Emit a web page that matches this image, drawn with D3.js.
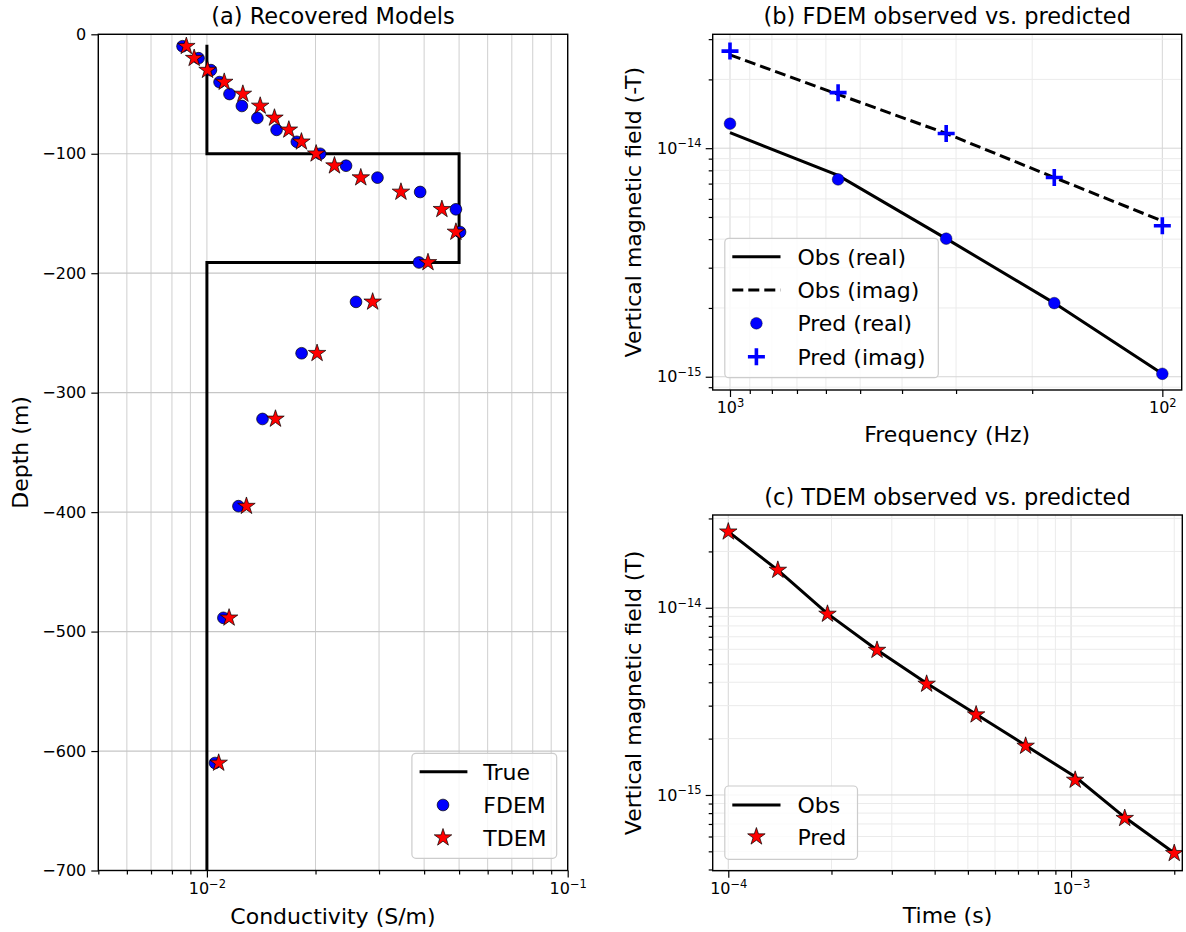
<!DOCTYPE html>
<html><head><meta charset="utf-8">
<script src="https://cdn.jsdelivr.net/npm/d3@7"></script>
<style>
body{margin:0;background:#fff;}
text{font-family:"DejaVu Sans",sans-serif;fill:#000;}
</style>
</head><body>
<svg id="chart" width="1186" height="932"></svg>
<script>
// ---------------- DATA ----------------
// (a) Recovered models
const depths = [-10,-20,-30,-40,-50,-60,-70,-80,-90,-100,-110,-120,-132,-146.5,-165.5,-191,-224,-267,-322,-395,-488.5,-610];
const sigmaFDEM = [0.00856,0.00948,0.01026,0.01084,0.01155,0.0125,0.0138,0.0156,0.01775,0.0206,0.0243,0.0297,0.039,0.049,0.0503,0.0387,0.0259,0.0183,0.01426,0.01223,0.01111,0.01053];
const sigmaTDEM = [0.00877,0.00922,0.01004,0.01117,0.01258,0.01405,0.01539,0.01687,0.01828,0.02008,0.02257,0.0267,0.0345,0.0448,0.049,0.041,0.0288,0.0202,0.01549,0.01287,0.01152,0.01078];
const trueDepth = [-10,-100,-100,-191,-191,-700];
const trueSigma = [0.01,0.01,0.05,0.05,0.01,0.01];
const depthTicks = [0,-100,-200,-300,-400,-500,-600,-700];
const condTicks = [0.01,0.1];

// (b) FDEM
const freqs = [1000,562.3,316.2,177.8,100];
const obsReal = [1.17e-14,7.6e-15,4.02e-15,2.1e-15,1.03e-15];
const obsImag = [2.56e-14,1.72e-14,1.16e-14,7.44e-15,4.8e-15];
const predReal = [1.28e-14,7.3e-15,4.02e-15,2.1e-15,1.03e-15];
const predImag = [2.66e-14,1.75e-14,1.16e-14,7.44e-15,4.58e-15];
const freqTicks = [1000,100];
const fieldTicksB = [1e-14,1e-15];

// (c) TDEM
const times = [1e-4,1.395e-4,1.947e-4,2.716e-4,3.79e-4,5.285e-4,7.37e-4,1.028e-3,1.434e-3,2e-3];
const obsT = [2.55e-14,1.59e-14,9.3e-15,5.95e-15,3.95e-15,2.7e-15,1.84e-15,1.25e-15,7.6e-16,4.9e-16];
const predT = [2.546e-14,1.59e-14,9.26e-15,5.94e-15,3.915e-15,2.684e-15,1.826e-15,1.202e-15,7.51e-16,4.88e-16];
const timeTicks = [1e-4,1e-3];
const fieldTicksC = [1e-14,1e-15];

// ---------------- SETUP ----------------
const svg = d3.select("#chart");
svg.append("rect").attr("width",1186).attr("height",932).attr("fill","#fff");
const minus = "\u2212";

function supLabel(sel, v){
  const e = Math.round(Math.log10(v));
  sel.text(null);
  sel.append("tspan").text("10");
  sel.append("tspan").attr("dy","-0.55em").attr("font-size","11.5px").text(e<0? minus+(-e) : String(e));
}

function panel(id, x0, x1, y0, y1){
  const g = svg.append("g");
  g.append("clipPath").attr("id",id).append("rect")
    .attr("x",x0).attr("y",y0).attr("width",x1-x0).attr("height",y1-y0);
  return g;
}

const starSym = d3.symbol().type(d3.symbolStar).size(95);
const starLegend = d3.symbol().type(d3.symbolStar).size(95);
const circSym = d3.symbol().type(d3.symbolCircle).size(108);

function styleAxis(ax){
  ax.select(".domain").remove();
  ax.selectAll(".tick line").attr("stroke","#000").attr("stroke-width",1.2);
  ax.selectAll("text").attr("font-size","16px").attr("font-family","DejaVu Sans");
}

function legendBox(g, x, y, w, h){
  g.append("rect").attr("x",x).attr("y",y).attr("width",w).attr("height",h)
    .attr("rx",4).attr("fill","#fff").attr("fill-opacity",0.8)
    .attr("stroke","#cccccc").attr("stroke-width",1.2);
}
function plusPath(cx, cy, s){
  return `M${cx-s},${cy}H${cx+s}M${cx},${cy-s}V${cy+s}`;
}

// ================= PANEL A =================
{
  const L=98.3, R=567.7, T=34.3, B=870.5;
  const g = panel("clipA", L, R, T, B);
  const x = d3.scaleLog().domain([0.005,0.1]).range([L,R]);
  const y = d3.scaleLinear().domain([0,-700]).range([T,B]);

  // grid
  const grid = g.append("g");
  grid.selectAll("line.v").data(x.ticks()).join("line")
    .attr("x1",d=>x(d)).attr("x2",d=>x(d)).attr("y1",T).attr("y2",B)
    .attr("stroke","#cfcfcf").attr("stroke-width",1);
  grid.selectAll("line.h").data(depthTicks).join("line")
    .attr("x1",L).attr("x2",R).attr("y1",d=>y(d)).attr("y2",d=>y(d))
    .attr("stroke","#c6c6c6").attr("stroke-width",1.2);

  // true model
  const line = d3.line().x(d=>x(d[0])).y(d=>y(d[1]));
  g.append("path").attr("clip-path","url(#clipA)")
    .datum(trueSigma.map((s,i)=>[s,trueDepth[i]]))
    .attr("d",line).attr("fill","none").attr("stroke","#000").attr("stroke-width",3)
    .attr("stroke-linecap","square");

  // FDEM circles
  g.selectAll("path.f").data(sigmaFDEM).join("path")
    .attr("transform",(d,i)=>`translate(${x(d)},${y(depths[i])})`)
    .attr("d",circSym).attr("fill","#0000ff").attr("stroke","#000").attr("stroke-width",0.7);
  // TDEM stars
  g.selectAll("path.t").data(sigmaTDEM).join("path")
    .attr("transform",(d,i)=>`translate(${x(d)},${y(depths[i])})`)
    .attr("d",starSym).attr("fill","#ff0000").attr("stroke","#000").attr("stroke-width",0.7);

  // frame
  g.append("rect").attr("x",L).attr("y",T).attr("width",R-L).attr("height",B-T)
    .attr("fill","none").attr("stroke","#000").attr("stroke-width",1.4);

  // axes
  const ax = g.append("g").attr("transform",`translate(0,${B})`)
    .call(d3.axisBottom(x).tickValues(condTicks).tickSize(7).tickPadding(5));
  styleAxis(ax);
  ax.selectAll(".tick text").each(function(d){ supLabel(d3.select(this), d); });
  const axm = g.append("g").attr("transform",`translate(0,${B})`)
    .call(d3.axisBottom(x).tickValues(x.ticks().filter(v=>!condTicks.some(c=>Math.abs(c-v)/c<1e-6))).tickSize(4).tickFormat(""));
  styleAxis(axm);
  const ay = g.append("g").attr("transform",`translate(${L},0)`)
    .call(d3.axisLeft(y).tickValues(depthTicks).tickSize(7).tickPadding(5).tickFormat(d3.format("d")));
  styleAxis(ay);

  // labels
  g.append("text").attr("x",(L+R)/2).attr("y",24).attr("text-anchor","middle")
    .attr("font-size","22.5px").text("(a) Recovered Models");
  g.append("text").attr("x",(L+R)/2).attr("y",924).attr("text-anchor","middle")
    .attr("font-size","22px").text("Conductivity (S/m)");
  g.append("text").attr("transform",`translate(28,${(T+B)/2}) rotate(-90)`).attr("text-anchor","middle")
    .attr("font-size","22px").text("Depth (m)");

  // legend
  const lg = g.append("g");
  legendBox(lg, 411.9, 753.3, 144.8, 105);
  lg.append("line").attr("x1",419.6).attr("x2",467.4).attr("y1",771.7).attr("y2",771.7)
    .attr("stroke","#000").attr("stroke-width",3);
  lg.append("path").attr("transform","translate(443,805)").attr("d",circSym)
    .attr("fill","#0000ff").attr("stroke","#000").attr("stroke-width",0.7);
  lg.append("path").attr("transform","translate(443,837.7)").attr("d",starLegend)
    .attr("fill","#ff0000").attr("stroke","#000").attr("stroke-width",0.7);
  [["True",771.7],["FDEM",805],["TDEM",837.7]].forEach(([t,yy])=>{
    lg.append("text").attr("x",483.3).attr("y",yy).attr("dy","0.36em").attr("font-size","22px").text(t);
  });
}

// ================= PANEL B =================
{
  const L=712.7, R=1181.7, T=34.3, B=390;
  const g = panel("clipB", L, R, T, B);
  const x = d3.scaleLog().domain([1096.5,90.2]).range([L,R]);
  const y = d3.scaleLog().domain([8.75e-16,3.15e-14]).range([B,T]);

  const xt = x.ticks(), yt = y.ticks();
  const isMaj = (v, arr)=>arr.some(c=>Math.abs(c-v)/c<1e-6);
  const grid = g.append("g");
  grid.selectAll("line.v").data(xt).join("line")
    .attr("x1",d=>x(d)).attr("x2",d=>x(d)).attr("y1",T).attr("y2",B)
    .attr("stroke",d=>isMaj(d,freqTicks)?"#d6d6d6":"#ebebeb").attr("stroke-width",1);
  grid.selectAll("line.h").data(yt).join("line")
    .attr("x1",L).attr("x2",R).attr("y1",d=>y(d)).attr("y2",d=>y(d))
    .attr("stroke",d=>isMaj(d,fieldTicksB)?"#d6d6d6":"#ebebeb").attr("stroke-width",1);

  const line = d3.line().x(d=>x(d[0])).y(d=>y(d[1]));
  const pl = g.append("g").attr("clip-path","url(#clipB)");
  pl.append("path").datum(freqs.map((f,i)=>[f,obsReal[i]])).attr("d",line)
    .attr("fill","none").attr("stroke","#000").attr("stroke-width",3);
  pl.append("path").datum(freqs.map((f,i)=>[f,obsImag[i]])).attr("d",line)
    .attr("fill","none").attr("stroke","#000").attr("stroke-width",3).attr("stroke-dasharray","11,5");
  g.selectAll("path.pr").data(predReal).join("path")
    .attr("transform",(d,i)=>`translate(${x(freqs[i])},${y(d)})`)
    .attr("d",circSym).attr("fill","#0000ff").attr("stroke","#000").attr("stroke-width",0.4);
  g.selectAll("path.pi").data(predImag).join("path")
    .attr("d",(d,i)=>plusPath(x(freqs[i]),y(d),8.5))
    .attr("fill","none").attr("stroke","#0000ff").attr("stroke-width",3.6);

  g.append("rect").attr("x",L).attr("y",T).attr("width",R-L).attr("height",B-T)
    .attr("fill","none").attr("stroke","#000").attr("stroke-width",1.4);

  const ax = g.append("g").attr("transform",`translate(0,${B})`)
    .call(d3.axisBottom(x).tickValues(freqTicks).tickSize(7).tickPadding(5));
  styleAxis(ax);
  ax.selectAll(".tick text").each(function(d){ supLabel(d3.select(this), d); });
  const axm = g.append("g").attr("transform",`translate(0,${B})`)
    .call(d3.axisBottom(x).tickValues(xt.filter(v=>!isMaj(v,freqTicks))).tickSize(4).tickFormat(""));
  styleAxis(axm);
  const ay = g.append("g").attr("transform",`translate(${L},0)`)
    .call(d3.axisLeft(y).tickValues(fieldTicksB).tickSize(7).tickPadding(4));
  styleAxis(ay);
  ay.selectAll(".tick text").each(function(d){ supLabel(d3.select(this), d); });
  const aym = g.append("g").attr("transform",`translate(${L},0)`)
    .call(d3.axisLeft(y).tickValues(yt.filter(v=>!isMaj(v,fieldTicksB))).tickSize(4).tickFormat(""));
  styleAxis(aym);

  g.append("text").attr("x",(L+R)/2).attr("y",24).attr("text-anchor","middle")
    .attr("font-size","22.5px").text("(b) FDEM observed vs. predicted");
  g.append("text").attr("x",(L+R)/2).attr("y",442).attr("text-anchor","middle")
    .attr("font-size","22px").text("Frequency (Hz)");
  g.append("text").attr("transform",`translate(641,${(T+B)/2}) rotate(-90)`).attr("text-anchor","middle")
    .attr("font-size","22px").text("Vertical magnetic field (-T)");

  const lg = g.append("g");
  legendBox(lg, 724.8, 238.3, 213.5, 139.4);
  const rows = [256.7,290,323.3,356.7];
  lg.append("line").attr("x1",732.3).attr("x2",780.5).attr("y1",rows[0]).attr("y2",rows[0])
    .attr("stroke","#000").attr("stroke-width",3);
  lg.append("line").attr("x1",732.3).attr("x2",780.5).attr("y1",rows[1]).attr("y2",rows[1])
    .attr("stroke","#000").attr("stroke-width",3).attr("stroke-dasharray","11,5");
  lg.append("path").attr("transform",`translate(756.4,${rows[2]})`).attr("d",circSym)
    .attr("fill","#0000ff").attr("stroke","#000").attr("stroke-width",0.4);
  lg.append("path").attr("d",plusPath(756.4,rows[3],8.5))
    .attr("fill","none").attr("stroke","#0000ff").attr("stroke-width",3.6);
  ["Obs (real)","Obs (imag)","Pred (real)","Pred (imag)"].forEach((t,i)=>{
    lg.append("text").attr("x",797.4).attr("y",rows[i]).attr("dy","0.36em").attr("font-size","22px").text(t);
  });
}

// ================= PANEL C =================
{
  const L=712.7, R=1182.3, T=515, B=870.7;
  const g = panel("clipC", L, R, T, B);
  const x = d3.scaleLog().domain([9.006e-5,2.111e-3]).range([L,R]);
  const y = d3.scaleLog().domain([3.94e-16,3.13e-14]).range([B,T]);

  const xt = x.ticks(), yt = y.ticks();
  const isMaj = (v, arr)=>arr.some(c=>Math.abs(c-v)/c<1e-6);
  const grid = g.append("g");
  grid.selectAll("line.v").data(xt).join("line")
    .attr("x1",d=>x(d)).attr("x2",d=>x(d)).attr("y1",T).attr("y2",B)
    .attr("stroke",d=>isMaj(d,timeTicks)?"#d6d6d6":"#ebebeb").attr("stroke-width",1);
  grid.selectAll("line.h").data(yt).join("line")
    .attr("x1",L).attr("x2",R).attr("y1",d=>y(d)).attr("y2",d=>y(d))
    .attr("stroke",d=>isMaj(d,fieldTicksC)?"#d6d6d6":"#ebebeb").attr("stroke-width",1);

  const line = d3.line().x(d=>x(d[0])).y(d=>y(d[1]));
  g.append("path").attr("clip-path","url(#clipC)")
    .datum(times.map((t,i)=>[t,obsT[i]])).attr("d",line)
    .attr("fill","none").attr("stroke","#000").attr("stroke-width",3);
  g.selectAll("path.pt").data(predT).join("path")
    .attr("transform",(d,i)=>`translate(${x(times[i])},${y(d)})`)
    .attr("d",starSym).attr("fill","#ff0000").attr("stroke","#000").attr("stroke-width",0.7);

  g.append("rect").attr("x",L).attr("y",T).attr("width",R-L).attr("height",B-T)
    .attr("fill","none").attr("stroke","#000").attr("stroke-width",1.4);

  const ax = g.append("g").attr("transform",`translate(0,${B})`)
    .call(d3.axisBottom(x).tickValues(timeTicks).tickSize(7).tickPadding(5));
  styleAxis(ax);
  ax.selectAll(".tick text").each(function(d){ supLabel(d3.select(this), d); });
  const axm = g.append("g").attr("transform",`translate(0,${B})`)
    .call(d3.axisBottom(x).tickValues(xt.filter(v=>!isMaj(v,timeTicks))).tickSize(4).tickFormat(""));
  styleAxis(axm);
  const ay = g.append("g").attr("transform",`translate(${L},0)`)
    .call(d3.axisLeft(y).tickValues(fieldTicksC).tickSize(7).tickPadding(4));
  styleAxis(ay);
  ay.selectAll(".tick text").each(function(d){ supLabel(d3.select(this), d); });
  const aym = g.append("g").attr("transform",`translate(${L},0)`)
    .call(d3.axisLeft(y).tickValues(yt.filter(v=>!isMaj(v,fieldTicksC))).tickSize(4).tickFormat(""));
  styleAxis(aym);

  g.append("text").attr("x",(L+R)/2).attr("y",505).attr("text-anchor","middle")
    .attr("font-size","22.5px").text("(c) TDEM observed vs. predicted");
  g.append("text").attr("x",(L+R)/2).attr("y",923).attr("text-anchor","middle")
    .attr("font-size","22px").text("Time (s)");
  g.append("text").attr("transform",`translate(641,${(T+B)/2}) rotate(-90)`).attr("text-anchor","middle")
    .attr("font-size","22px").text("Vertical magnetic field (T)");

  const lg = g.append("g");
  legendBox(lg, 724.8, 786, 132.7, 73.3);
  lg.append("line").attr("x1",732.3).attr("x2",780.5).attr("y1",805).attr("y2",805)
    .attr("stroke","#000").attr("stroke-width",3);
  lg.append("path").attr("transform","translate(756.4,836.7)").attr("d",starLegend)
    .attr("fill","#ff0000").attr("stroke","#000").attr("stroke-width",0.7);
  [["Obs",805],["Pred",836.7]].forEach(([t,yy])=>{
    lg.append("text").attr("x",797.4).attr("y",yy).attr("dy","0.36em").attr("font-size","22px").text(t);
  });
}
</script>
</body></html>
